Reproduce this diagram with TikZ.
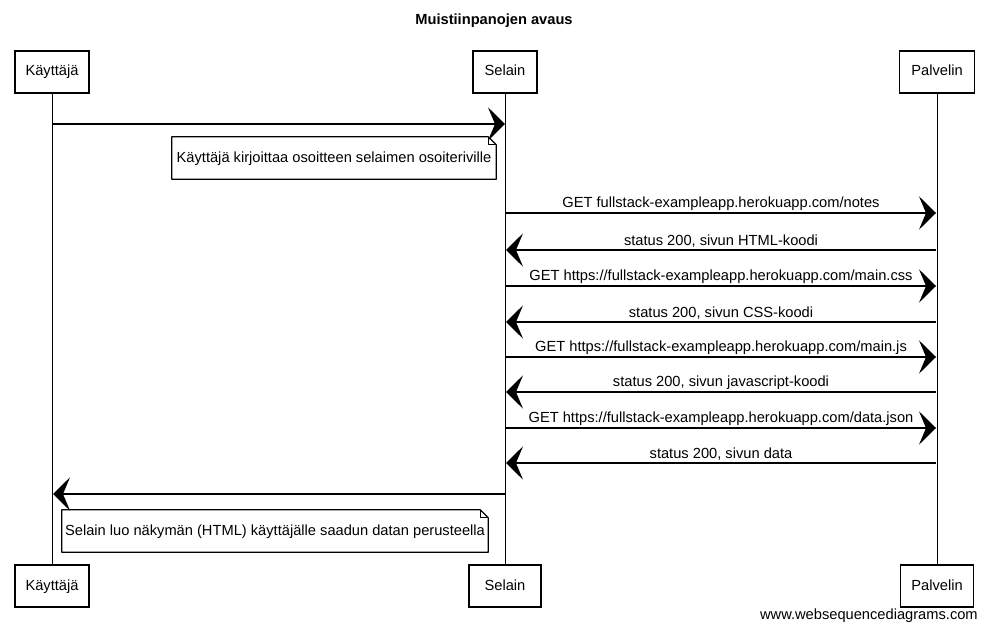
\documentclass[tikz,border=0pt]{standalone}
\usepackage{fontspec}
\setmainfont{Liberation Sans}
\usetikzlibrary{arrows.meta}
\begin{document}
\begin{tikzpicture}[x=0.75pt,y=-0.75pt,
  every node/.style={font=\fontsize{11pt}{13pt}\selectfont},
  part/.style={draw,line width=0.85pt,minimum height=31.5pt,inner sep=0pt,text height=8pt,text depth=2pt},
  life/.style={line width=0.7pt},
  msg/.style={line width=1.1pt,-{Stealth[length=12.75pt,width=25pt,inset=5.25pt]}},
  lbl/.style={anchor=south,inner sep=1.5pt},
  notebox/.style={minimum height=31.5pt,inner sep=0pt,text height=8pt,text depth=1pt},
  noteline/.style={line width=0.85pt,line join=round}]
\useasboundingbox (0,0) rectangle (987,630);
\fill[white] (0,0) rectangle (987,630);
% title
\node[font=\bfseries\fontsize{11pt}{13pt}\selectfont] (title) at (494,21) {Muistiinpanojen avaus};
% participants
\node[part,minimum width=55.5pt] (kt) at (52,72) {Käyttäjä};
\node[part,minimum width=48pt] (st) at (505,72) {Selain};
\node[part,minimum width=56pt] (pt) at (937,72) {Palvelin};
\node[part,minimum width=55.5pt] (kb) at (52,586) {Käyttäjä};
\node[part,minimum width=54pt] (sb) at (505,586) {Selain};
\node[part,minimum width=55pt] (pb) at (937,586) {Palvelin};
% lifelines
\draw[life] (kt) -- (kb);
\draw[life] (st) -- (sb);
\draw[life] (pt) -- (pb);
% message endpoints
\coordinate (k1) at (53,124);  \coordinate (s1) at (505,124);
\coordinate (s3) at (506,213); \coordinate (p3) at (936,213);
\coordinate (s4) at (506,250); \coordinate (p4) at (936,250);
\coordinate (s5) at (506,286); \coordinate (p5) at (936,286);
\coordinate (s6) at (506,322); \coordinate (p6) at (936,322);
\coordinate (s7) at (506,357); \coordinate (p7) at (936,357);
\coordinate (s8) at (506,392); \coordinate (p8) at (936,392);
\coordinate (s9) at (506,428); \coordinate (p9) at (936,428);
\coordinate (s10) at (506,463); \coordinate (p10) at (936,463);
\coordinate (s11) at (505,494); \coordinate (k11) at (53,494);
% messages
\draw[msg] (k1) -- (s1);
\draw[msg] (s3) -- node[lbl] (l3) {GET fullstack-exampleapp.herokuapp.com/notes} (p3);
\draw[msg] (p4) -- node[lbl] (l4) {status 200, sivun HTML-koodi} (s4);
\draw[msg] (s5) -- node[lbl] (l5) {GET https://fullstack-exampleapp.herokuapp.com/main.css} (p5);
\draw[msg] (p6) -- node[lbl] (l6) {status 200, sivun CSS-koodi} (s6);
\draw[msg] (s7) -- node[lbl] (l7) {GET https://fullstack-exampleapp.herokuapp.com/main.js} (p7);
\draw[msg] (p8) -- node[lbl] (l8) {status 200, sivun javascript-koodi} (s8);
\draw[msg] (s9) -- node[lbl] (l9) {GET https://fullstack-exampleapp.herokuapp.com/data.json} (p9);
\draw[msg] (p10) -- node[lbl] (l10) {status 200, sivun data} (s10);
\draw[msg] (s11) -- (k11);
% notes
\node[notebox,minimum width=243pt] (n1) at (334,158) {Käyttäjä kirjoittaa osoitteen selaimen osoiteriville};
\draw[noteline] (n1.south west) -- (n1.north west) -- ([xshift=-6pt]n1.north east) -- ([yshift=-6pt]n1.north east) -- (n1.south east) -- cycle;
\draw[noteline] ([xshift=-6pt]n1.north east) -- ([xshift=-6pt,yshift=-6pt]n1.north east) -- ([yshift=-6pt]n1.north east);
\node[notebox,minimum width=319.5pt] (n2) at (275,531) {Selain luo näkymän (HTML) käyttäjälle saadun datan perusteella};
\draw[noteline] (n2.south west) -- (n2.north west) -- ([xshift=-6pt]n2.north east) -- ([yshift=-6pt]n2.north east) -- (n2.south east) -- cycle;
\draw[noteline] ([xshift=-6pt]n2.north east) -- ([xshift=-6pt,yshift=-6pt]n2.north east) -- ([yshift=-6pt]n2.north east);
% footer
\node[anchor=east,inner sep=0pt] (foot) at (978,616) {www.websequencediagrams.com};
\end{tikzpicture}
\end{document}
